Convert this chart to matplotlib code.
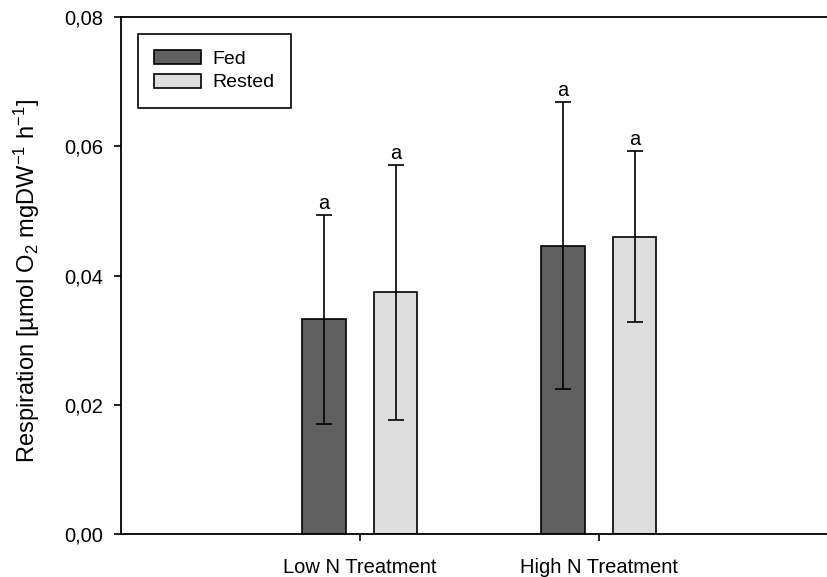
import numpy as np
import matplotlib
matplotlib.use('Agg')
import matplotlib.pyplot as plt
from matplotlib.ticker import FuncFormatter

# data
treatments = ['Low N Treatment', 'High N Treatment']
groups = ['Fed', 'Rested']
fed_mean = [0.0332, 0.0446]
fed_err = [0.0162, 0.0222]
rested_mean = [0.0374, 0.0460]
rested_err = [0.0197, 0.0132]
letters_fed = ['a', 'a']
letters_rested = ['a', 'a']
y_ticks = [0.0, 0.02, 0.04, 0.06, 0.08]


def main():
    plt.rcParams['font.family'] = ['Liberation Sans', 'DejaVu Sans']
    plt.rcParams['mathtext.fontset'] = 'custom'
    plt.rcParams['mathtext.rm'] = 'Liberation Sans'
    plt.rcParams['mathtext.it'] = 'Liberation Sans:italic'
    plt.rcParams['font.size'] = 14

    fig = plt.figure(figsize=(8.28, 5.77), dpi=100)
    ax = fig.add_axes([0.1461, 0.0745, 0.8539, 0.896])

    x = np.arange(1, len(treatments) + 1)
    w = 0.182
    off = 0.15

    ax.bar(x - off, fed_mean, w, color='#606060', edgecolor='black',
           linewidth=1.2, label=groups[0], zorder=2)
    ax.bar(x + off, rested_mean, w, color='#dedede', edgecolor='black',
           linewidth=1.2, label=groups[1], zorder=2)
    ax.errorbar(x - off, fed_mean, yerr=fed_err, fmt='none', ecolor='black',
                elinewidth=1.2, capsize=5.8, capthick=1.2, zorder=3)
    ax.errorbar(x + off, rested_mean, yerr=rested_err, fmt='none', ecolor='black',
                elinewidth=1.2, capsize=5.8, capthick=1.2, zorder=3)

    # significance letters above the caps
    for xi, m, e, t in zip(x - off, fed_mean, fed_err, letters_fed):
        ax.annotate(t, (xi, m + e), xytext=(0, 1.5), textcoords='offset points',
                    ha='center', va='bottom', fontsize=14.5)
    for xi, m, e, t in zip(x + off, rested_mean, rested_err, letters_rested):
        ax.annotate(t, (xi, m + e), xytext=(0, 1.5), textcoords='offset points',
                    ha='center', va='bottom', fontsize=14.5)

    ax.set_xlim(0, 2.96)
    ax.set_ylim(0, 0.08)
    ax.set_xticks(x)
    ax.set_xticklabels(treatments)
    ax.set_yticks(y_ticks)
    ax.yaxis.set_major_formatter(FuncFormatter(lambda v, p: ('%.2f' % v).replace('.', ',')))
    ax.tick_params(direction='out', length=5, width=1.2, labelsize=14.5)
    ax.tick_params(axis='x', pad=12)
    ax.tick_params(axis='y', pad=8)

    ax.spines['right'].set_visible(False)
    for s in ['left', 'bottom', 'top']:
        ax.spines[s].set_linewidth(1.3)

    ax.set_ylabel('Respiration [µmol O$_2$ mgDW$^{-1}$ h$^{-1}$]', fontsize=17)
    ax.yaxis.set_label_coords(-0.111, 0.49)

    leg = ax.legend(loc='upper left', bbox_to_anchor=(0.024, 0.968), fontsize=14,
                    fancybox=False, edgecolor='black', framealpha=1,
                    handlelength=2.4, handleheight=0.72, handletextpad=0.6,
                    labelspacing=0.3, borderpad=0.85, borderaxespad=0)
    leg.get_frame().set_linewidth(1.2)

    fig.savefig('out.png', dpi=100)


if __name__ == '__main__':
    main()
